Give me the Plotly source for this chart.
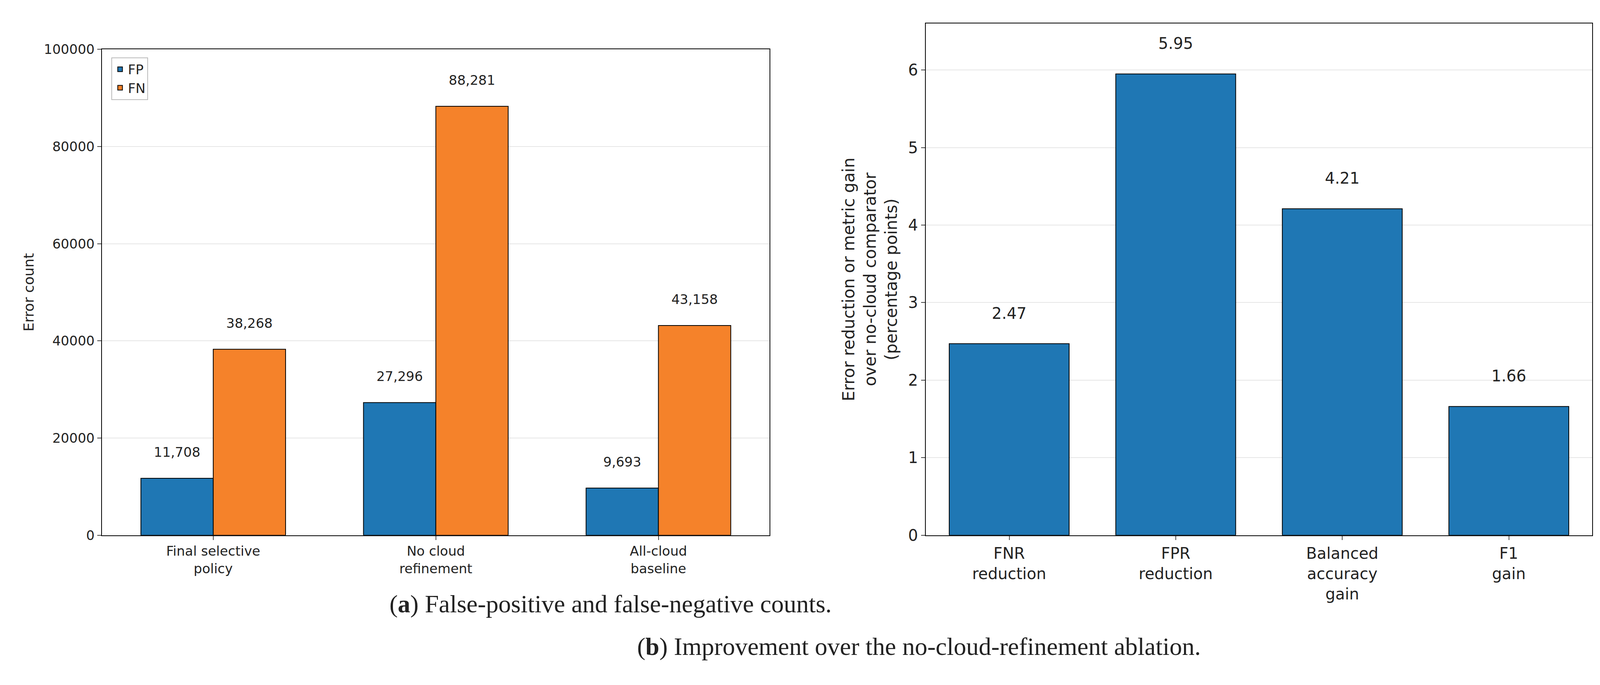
import plotly.graph_objects as go

# left panel data
policies = ["Final selective<br>policy", "No cloud<br>refinement", "All-cloud<br>baseline"]
fp_counts = [11708, 27296, 9693]
fn_counts = [38268, 88281, 43158]

# right panel data
metrics = ["FNR<br>reduction", "FPR<br>reduction", "Balanced<br>accuracy<br>gain", "F1<br>gain"]
gains = [2.47, 5.95, 4.21, 1.66]

BLUE = "#1f77b4"
ORANGE = "#f5822a"
TICK = dict(family="DejaVu Sans", size=34, color="#222")
TICK2 = dict(family="DejaVu Sans", size=40, color="#222")

fig = go.Figure()

fig.add_trace(go.Bar(
    x=policies, y=fp_counts, name="FP", marker=dict(color=BLUE, line=dict(color="black", width=2)),
    text=[f"{v:,}<br> " for v in fp_counts], textposition="outside", textfont=TICK, cliponaxis=False,
    xaxis="x", yaxis="y",
))
fig.add_trace(go.Bar(
    x=policies, y=fn_counts, name="FN", marker=dict(color=ORANGE, line=dict(color="black", width=2)),
    text=[f"{v:,}<br> " for v in fn_counts], textposition="outside", textfont=TICK, cliponaxis=False,
    xaxis="x", yaxis="y",
))
fig.add_trace(go.Bar(
    x=metrics, y=gains, showlegend=False, width=0.72,
    marker=dict(color=BLUE, line=dict(color="black", width=2)),
    text=[f"{v:.2f}<br> " for v in gains], textposition="outside",
    textfont=TICK2, cliponaxis=False,
    xaxis="x2", yaxis="y2",
))

axis_common = dict(showline=True, linecolor="black", linewidth=2, mirror=True, ticks="outside",
                   ticklen=10, tickwidth=2, zeroline=False)

fig.update_layout(
    barmode="group", bargap=0.35, bargroupgap=0,
    plot_bgcolor="white", paper_bgcolor="white",
    margin=dict(l=0, r=0, t=0, b=0),
    font=dict(family="DejaVu Sans", color="#222"),
    xaxis=dict(domain=[0.062, 0.481], anchor="y", tickfont=TICK, **axis_common),
    yaxis=dict(domain=[0.208, 0.942], anchor="x", range=[0, 100000], dtick=20000, tickformat="d",
               showgrid=True, gridcolor="#e6e6e6", gridwidth=2, tickfont=TICK,
               title=dict(text="Error count", font=dict(size=36)), **axis_common),
    xaxis2=dict(domain=[0.579, 0.997], anchor="y2", tickfont=TICK2, **axis_common),
    yaxis2=dict(domain=[0.208, 0.981], anchor="x2", range=[0, 6.6], dtick=1,
                showgrid=True, gridcolor="#e6e6e6", gridwidth=2, tickfont=TICK2,
                title=dict(text="Error reduction or metric gain<br>over no-cloud comparator<br>(percentage points)",
                           font=dict(size=42)), **axis_common),
    legend=dict(x=0.068, y=0.93, xanchor="left", yanchor="top", bordercolor="#bbb", borderwidth=2,
                bgcolor="white", font=dict(size=34)),
    annotations=[
        dict(text="(<b>a</b>) False-positive and false-negative counts.", x=0.242, y=0.082,
             xref="paper", yref="paper", showarrow=False, font=dict(family="Liberation Serif", size=64, color="#222")),
        dict(text="(<b>b</b>) Improvement over the no-cloud-refinement ablation.", x=0.752, y=0.018,
             xref="paper", yref="paper", showarrow=False, font=dict(family="Liberation Serif", size=64, color="#222")),
    ],
)

fig.write_html("out.html")
